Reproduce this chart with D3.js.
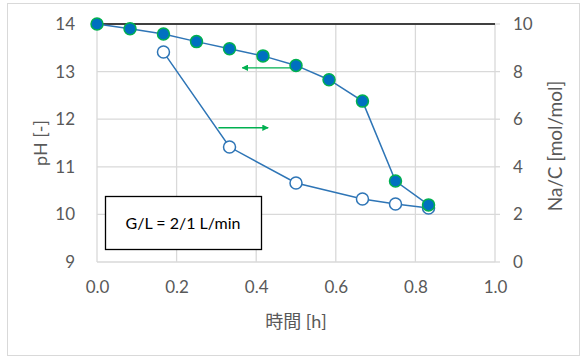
<!DOCTYPE html>
<html><head><meta charset="utf-8">
<script src="https://cdn.jsdelivr.net/npm/d3@7"></script>
<style>
body{margin:0;background:#fff;}
text{font-family:Lato,"Noto Sans CJK JP",sans-serif;}
</style></head>
<body><svg id="c" width="583" height="361"></svg>
<script>
const time = [0.0, 0.083, 0.167, 0.25, 0.333, 0.417, 0.5, 0.583, 0.667, 0.75, 0.833];
const pH   = [14.0, 13.9, 13.79, 13.63, 13.48, 13.33, 13.13, 12.83, 12.38, 10.7, 10.2];
const naTime = [0.167, 0.333, 0.5, 0.667, 0.75, 0.833];
const naC    = [8.82, 4.83, 3.32, 2.65, 2.44, 2.27];
const xTicks = [0, 0.2, 0.4, 0.6, 0.8, 1.0];
const leftTicks = [9, 10, 11, 12, 13, 14];
const rightTicks = [0, 2, 4, 6, 8, 10];
const boxLabel = "G/L = 2/1 L/min";

const svg = d3.select("#c");
const L = 97, R = 495, T = 24, B = 262;
const x = d3.scaleLinear().domain([0, 1]).range([L, R]);
const yL = d3.scaleLinear().domain([9, 14]).range([B, T]);
const yR = d3.scaleLinear().domain([0, 10]).range([B, T]);
const grey = "#595959";

// chart border
svg.append("rect").attr("x", 7.5).attr("y", 3.5).attr("width", 572).attr("height", 352)
  .attr("fill", "#fff").attr("stroke", "#d9d9d9");

// gridlines
const g = svg.append("g");
g.selectAll(".hg").data(leftTicks).join("line")
  .attr("x1", L).attr("x2", R).attr("y1", d => yL(d)).attr("y2", d => yL(d))
  .attr("stroke", "#d9d9d9").attr("stroke-width", 1.3);
g.selectAll(".vg").data(xTicks.slice(1, -1)).join("line")
  .attr("x1", d => x(d)).attr("x2", d => x(d)).attr("y1", T).attr("y2", B)
  .attr("stroke", "#d9d9d9").attr("stroke-width", 1.3);
g.append("line").attr("x1", R).attr("x2", R).attr("y1", T).attr("y2", B).attr("stroke", "#d9d9d9").attr("stroke-width", 1.3);
g.append("line").attr("x1", L).attr("x2", L).attr("y1", T).attr("y2", B).attr("stroke", "#d9d9d9").attr("stroke-width", 1.3);
g.selectAll(".rt").data(rightTicks).join("line")
  .attr("x1", R).attr("x2", R + 5).attr("y1", d => yR(d)).attr("y2", d => yR(d))
  .attr("stroke", "#d9d9d9").attr("stroke-width", 1.3);
g.append("line").attr("x1", L).attr("x2", R).attr("y1", T).attr("y2", T)
  .attr("stroke", "#404040").attr("stroke-width", 2);

// axes
const ax = svg.append("g").attr("transform", `translate(0,${B})`)
  .call(d3.axisBottom(x).tickValues(xTicks).tickFormat(d3.format(".1f")).tickSize(0).tickPadding(19));
const ayl = svg.append("g").attr("transform", `translate(${L},0)`)
  .call(d3.axisLeft(yL).tickValues(leftTicks).tickFormat(d3.format("d")).tickSize(0).tickPadding(22));
const ayr = svg.append("g").attr("transform", `translate(${R},0)`)
  .call(d3.axisRight(yR).tickValues(rightTicks).tickFormat(d3.format("d")).tickSize(0).tickPadding(18));
[ax, ayl, ayr].forEach(a => {
  a.select(".domain").remove();
  a.selectAll("text").attr("fill", grey).style("font-size", "17px")
    .style("font-family", "Lato, 'Noto Sans CJK JP', sans-serif");
});

// axis titles
svg.append("text").attr("transform", `translate(41,${(T + B) / 2}) rotate(-90)`)
  .attr("dy", "0.35em").attr("text-anchor", "middle").attr("fill", grey).style("font-size", "18px").text("pH [-]");
svg.append("text").attr("transform", `translate(555,146) rotate(-90)`)
  .attr("dy", "0.35em").attr("text-anchor", "middle").attr("fill", grey).style("font-size", "19px").text("Na/C [mol/mol]");
svg.append("text").attr("x", (L + R) / 2).attr("y", 322).attr("dy", "0.35em")
  .attr("text-anchor", "middle").attr("fill", grey).style("font-size", "18px").text("時間 [h]");

// arrows
const defs = svg.append("defs");
defs.append("marker").attr("id", "ah").attr("viewBox", "0 0 10 10").attr("refX", 9).attr("refY", 5)
  .attr("markerWidth", 5).attr("markerHeight", 5).attr("orient", "auto")
  .append("path").attr("d", "M0,0 L10,5 L0,10 z").attr("fill", "#00B050");
svg.append("line").attr("x1", x(0.5)).attr("x2", x(0.365)).attr("y1", yL(13.08)).attr("y2", yL(13.08))
  .attr("stroke", "#00B050").attr("stroke-width", 1.3).attr("marker-end", "url(#ah)");
svg.append("line").attr("x1", x(0.305)).attr("x2", x(0.43)).attr("y1", yL(11.82)).attr("y2", yL(11.82))
  .attr("stroke", "#00B050").attr("stroke-width", 1.3).attr("marker-end", "url(#ah)");

// series
const lineColor = "#2E75B6";
const dPH = time.map((t, i) => [t, pH[i]]);
const dNa = naTime.map((t, i) => [t, naC[i]]);
svg.append("path").datum(dNa).attr("fill", "none").attr("stroke", lineColor).attr("stroke-width", 1.5)
  .attr("d", d3.line().x(d => x(d[0])).y(d => yR(d[1])));
svg.append("path").datum(dPH).attr("fill", "none").attr("stroke", lineColor).attr("stroke-width", 1.5)
  .attr("d", d3.line().x(d => x(d[0])).y(d => yL(d[1])));
svg.selectAll(".on").data(dNa).join("circle")
  .attr("cx", d => x(d[0])).attr("cy", d => yR(d[1])).attr("r", 6)
  .attr("fill", "#fff").attr("stroke", lineColor).attr("stroke-width", 1.5);
svg.selectAll(".fp").data(dPH).join("circle")
  .attr("cx", d => x(d[0])).attr("cy", d => yL(d[1])).attr("r", 6)
  .attr("fill", "#0070C0").attr("stroke", "#00B050").attr("stroke-width", 1.5);

// text box
svg.append("rect").attr("x", 105.5).attr("y", 196.5).attr("width", 156).attr("height", 53)
  .attr("fill", "#fff").attr("stroke", "#000").attr("stroke-width", 1.3);
svg.append("text").attr("x", 183).attr("y", 223).attr("dy", "0.35em").attr("text-anchor", "middle")
  .attr("fill", "#000").style("font-size", "16px").text(boxLabel);
</script></body></html>
